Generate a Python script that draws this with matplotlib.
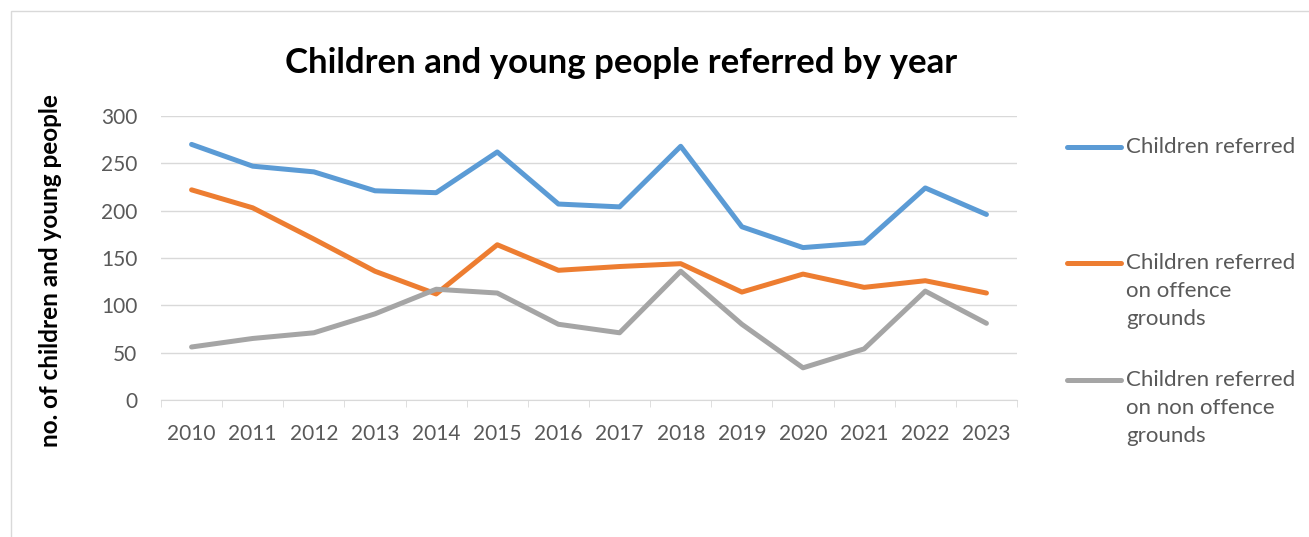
import numpy as np
import matplotlib
matplotlib.use("Agg")
import matplotlib.pyplot as plt
from matplotlib.lines import Line2D
from matplotlib.patches import Rectangle

plt.rcParams['font.family'] = ['Lato', 'DejaVu Sans']

years = ['2010', '2011', '2012', '2013', '2014', '2015', '2016',
         '2017', '2018', '2019', '2020', '2021', '2022', '2023']
referred = [270, 247, 241, 221, 219, 262, 207, 204, 268, 183, 161, 166, 224, 196]
offence = [222, 203, 170, 136, 112, 164, 137, 141, 144, 114, 133, 119, 126, 113]
non_offence = [56, 65, 71, 91, 117, 113, 80, 71, 136, 80, 34, 54, 115, 81]

series_names = ['Children referred',
                'Children referred\non offence\ngrounds',
                'Children referred\non non offence\ngrounds']
colors = ['#5B9BD5', '#ED7D31', '#A5A5A5']
text_grey = '#595959'
grid_grey = '#D9D9D9'

W, H = 1309, 537
fig = plt.figure(figsize=(W / 100, H / 100), dpi=100)

# outer chart border
fig.add_artist(Rectangle((11 / W, -0.1), 1.2, 1 - 11 / H + 0.1, transform=fig.transFigure,
                         fill=False, edgecolor=grid_grey, lw=1))

ax = fig.add_axes([161 / W, 1 - 400 / H, (1017 - 161) / W, (400 - 116) / H])
x = np.arange(len(years))
for vals, c in zip([referred, offence, non_offence], colors):
    ax.plot(x, vals, color=c, lw=3.6, solid_capstyle='round', solid_joinstyle='round')

ax.set_xlim(-0.5, len(years) - 0.5)
ax.set_ylim(0, 300)
ax.set_yticks(range(0, 301, 50))
ax.set_xticks(x)
ax.set_xticklabels(years)
ax.set_xticks(np.arange(-0.5, len(years), 1), minor=True)
ax.grid(axis='y', color=grid_grey, lw=1)
ax.set_axisbelow(True)
for s in ['left', 'right', 'top']:
    ax.spines[s].set_visible(False)
ax.spines['bottom'].set_color(grid_grey)
ax.tick_params(axis='y', length=0, pad=17, labelsize=15, labelcolor=text_grey)
ax.tick_params(axis='x', which='major', length=0, pad=17, labelsize=15, labelcolor=text_grey)
ax.tick_params(axis='x', which='minor', length=5, color=grid_grey)

fig.text(621 / W, 1 - 63 / H, 'Children and young people referred by year',
         ha='center', va='center', fontsize=25, fontweight='bold')
fig.text(51 / W, 1 - 271 / H, 'no. of children and young people', rotation=90,
         ha='center', va='center', fontsize=17.5, fontweight='bold')

# legend
legend_y = [147, 263, 380]
for name, c, yy in zip(series_names, colors, legend_y):
    fig.add_artist(Line2D([1067 / W, 1121 / W], [1 - yy / H] * 2, transform=fig.transFigure,
                          color=c, lw=3.6, solid_capstyle='round'))
    fig.text(1126 / W, 1 - (yy - 10) / H, name, ha='left', va='top', fontsize=16,
             color=text_grey, linespacing=1.5)

fig.savefig('out.png', dpi=100)
